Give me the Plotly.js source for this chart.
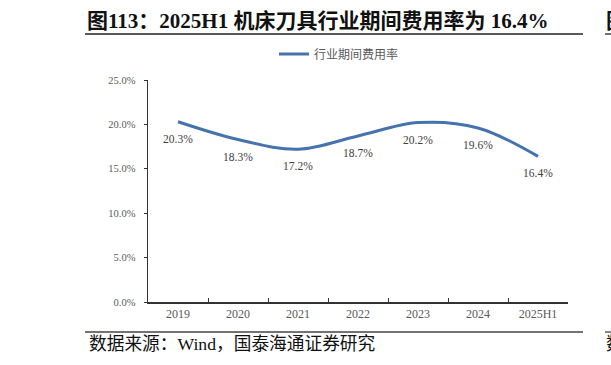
<!DOCTYPE html>
<html>
<head>
<meta charset="utf-8">
<script src="https://cdn.plot.ly/plotly-3.0.1.min.js"></script>
<style>html,body{margin:0;padding:0;background:#fff;}#chart{width:611px;height:365px;}</style>
</head>
<body>
<div id="chart"></div>
<script>
const categories = ["2019", "2020", "2021", "2022", "2023", "2024", "2025H1"];
const expenseRate = [20.3, 18.3, 17.2, 18.7, 20.2, 19.6, 16.4];
const seriesName = "行业期间费用率";
const yTicks = [0, 5, 10, 15, 20, 25];
const titleText = "图113：2025H1 机床刀具行业期间费用率为 16.4%";
const sourceText = "数据来源：Wind，国泰海通证券研究";

const serif = "'Liberation Serif', 'Times New Roman', 'Noto Sans CJK SC', serif";
const W = 611, H = 365;
const L = 148, R = 43, T = 80, B = 63;
const pw = W - L - R, ph = H - T - B;
const px = x => (x - L) / pw;
const py = y => (H - B - y) / ph;

const trace = {
  x: categories,
  y: expenseRate,
  type: "scatter",
  mode: "lines",
  name: seriesName,
  line: {color: "#4673ad", width: 3, shape: "spline", smoothing: 1},
  hoverinfo: "skip"
};

const labelAnns = categories.map((c, i) => ({
  x: i, y: expenseRate[i], xref: "x", yref: "y",
  text: expenseRate[i].toFixed(1) + "%",
  showarrow: false, yshift: -17,
  font: {family: serif, size: 11.5, color: "#404040"}
}));

const layout = {
  width: W, height: H,
  margin: {l: L, r: R, t: T, b: B},
  paper_bgcolor: "#ffffff", plot_bgcolor: "#ffffff",
  title: {
    text: "<b>" + titleText + "</b>",
    xref: "container", yref: "container",
    x: 87 / W, xanchor: "left",
    y: 1 - 21 / H, yanchor: "middle",
    font: {family: serif, size: 21, color: "#111111"}
  },
  showlegend: true,
  legend: {
    orientation: "h",
    x: px(274), xanchor: "left",
    y: py(54), yanchor: "middle",
    font: {family: "'Noto Sans CJK SC', sans-serif", size: 12, color: "#595959"},
    bgcolor: "rgba(0,0,0,0)"
  },
  xaxis: {
    type: "category",
    categoryorder: "array", categoryarray: categories,
    range: [-0.5, categories.length - 0.5],
    autorange: false,
    showgrid: false, zeroline: false,
    showline: true, linecolor: "#333333", linewidth: 1.5,
    ticks: "inside", ticklen: 4, tickcolor: "#333333", tickwidth: 1,
    tickson: "boundaries",
    tickangle: 0,
    tickfont: {family: serif, size: 12, color: "#595959"},
    fixedrange: true
  },
  yaxis: {
    range: [0, 25],
    autorange: false,
    tickvals: yTicks,
    ticktext: yTicks.map(v => v.toFixed(1) + "%"),
    showgrid: false, zeroline: false,
    showline: true, linecolor: "#333333", linewidth: 1.5,
    ticks: "outside", ticklen: 3, tickcolor: "#333333", tickwidth: 1,
    tickfont: {family: serif, size: 10.5, color: "#595959"},
    ticklabelstandoff: 6,
    fixedrange: true
  },
  shapes: [
    {type: "line", xref: "paper", yref: "paper", x0: px(85), x1: px(583), y0: py(34), y1: py(34), line: {color: "#222222", width: 1.3}},
    {type: "line", xref: "paper", yref: "paper", x0: px(85), x1: px(583), y0: py(332), y1: py(332), line: {color: "#444444", width: 1.3}},
    {type: "line", xref: "paper", yref: "paper", x0: px(605), x1: px(615), y0: py(34), y1: py(34), line: {color: "#222222", width: 1.3}},
    {type: "line", xref: "paper", yref: "paper", x0: px(605), x1: px(615), y0: py(332), y1: py(332), line: {color: "#444444", width: 1.3}}
  ],
  annotations: labelAnns.concat([
    {xref: "paper", yref: "paper", x: px(87), y: py(344), xanchor: "left", yanchor: "middle",
     text: sourceText, showarrow: false,
     font: {family: serif, size: 17.7, color: "#111111"}},
    {xref: "paper", yref: "paper", x: px(604), y: py(21), xanchor: "left", yanchor: "middle",
     text: "<b>图</b>", showarrow: false,
     font: {family: serif, size: 21, color: "#111111"}},
    {xref: "paper", yref: "paper", x: px(604), y: py(344), xanchor: "left", yanchor: "middle",
     text: "数", showarrow: false,
     font: {family: serif, size: 17.7, color: "#111111"}}
  ])
};

Plotly.newPlot("chart", [trace], layout, {displayModeBar: false, staticPlot: true});
</script>
</body>
</html>
